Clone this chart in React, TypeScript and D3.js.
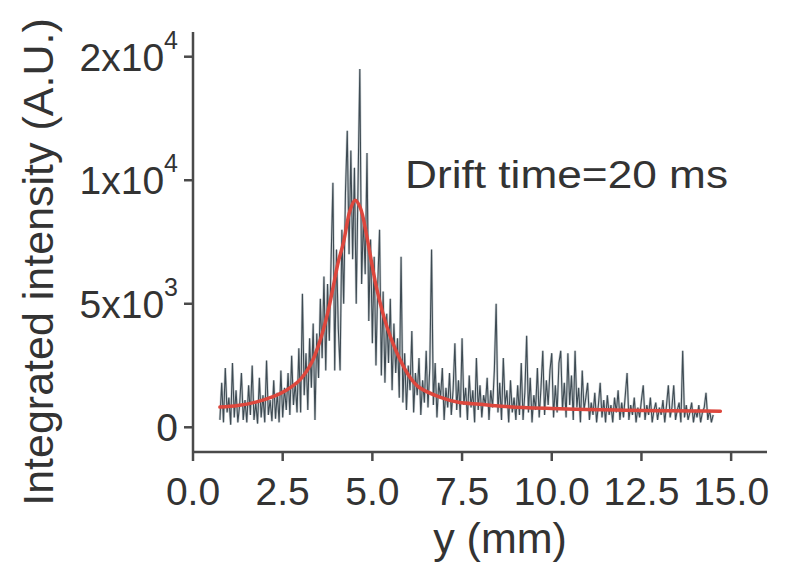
import React from "react";
import * as d3 from "d3";

// Integrated intensity profile along y, sampled every 0.05 mm from 0.75 mm
const Y_START_MM = 0.75;
const Y_STEP_MM = 0.05;
const intensity: number[] = [
  // 0.75 – 2.45 mm
  300, 1800, 200, 2400, 600, 1200, 100, 2600, 400, 1500, 200, 900, 2200, 300, 1100, 200, 1700, 500,
  2500, 300, 1000, 150, 2000, 400, 1300, 200, 2700, 500, 1100, 250, 1900, 350, 1400, 200, 2300,
  // 2.50 – 2.95
  400, 1600, 700, 2200, 500, 2900, 900, 1800, 600, 3200,
  // 3.00 – 3.45
  600, 5400, 1300, 3000, 700, 3600, 1600, 4200, 300, 3800,
  // 3.50 – 3.95
  2000, 5200, 2800, 6100, 2300, 5800, 3500, 6800, 9900, 2300,
  // 4.00 – 4.35
  7200, 4000, 2300, 8000, 5000, 9500, 12000, 7000,
  // 4.40 – 4.80
  11200, 6800, 10500, 5000, 9800, 14500, 5800, 8500, 6200,
  // 4.85 – 5.20
  11100, 4300, 7600, 3400, 6900, 2500, 5800, 8000,
  // 5.25 – 5.80
  2100, 5500, 1800, 4600, 2600, 5200, 1500, 4200, 2200, 3600, 1200, 6900,
  // 5.85 – 6.60
  1000, 3000, 700, 2500, 1500, 3900, 600, 2200, 1300, 2800, 500, 1900, 1000, 3100, 800, 2400,
  // 6.65 – 7.25
  7200, 900, 2600, 400, 1800, 1200, 2400, 300, 1600, 800, 2200, 500, 1500,
  // 7.30 – 8.25
  3400, 700, 1900, 400, 3600, 900, 1600, 300, 2100, 800, 1500, 200, 2800, 700, 1700, 400, 1300, 900,
  2000, 300,
  // 8.30 – 9.00
  1500, 800, 2300, 5000, 600, 1800, 300, 2800, 900, 1500, 200, 1900, 600, 1200, 300,
  // 9.05 – 10.25
  1700, 500, 2600, 300, 1400, 3700, 600, 2000, 200, 1300, 700, 2400, 400, 1600, 3100, 500, 1900, 900,
  2300, 3000, 400, 1700, 600, 2600, 3100,
  // 10.30 – 11.50
  700, 1800, 400, 3000, 900, 2100, 300, 3100, 800, 1600, 200, 2300, 700, 1200, 1800, 300, 1000, 500,
  1400, 200, 900, 1800, 400, 1100, 200,
  // 11.55 – 12.75
  1300, 500, 900, 200, 1200, 600, 1500, 300, 1000, 400, 1300, 2200, 300, 900, 500, 1200, 200, 800,
  400, 1100, 1700, 300, 900, 500, 1200,
  // 12.80 – 14.50
  200, 700, 1000, 300, 800, 500, 1100, 200, 900, 1700, 400, 800, 1700, 300, 700, 1000, 200, 3100,
  400, 900, 300, 600, 1000, 200, 700, 400, 900, 200, 600, 800, 1400, 300, 700, 200, 500,
];

// Peak fit curve
const fitY_mm: number[] = [
  0.75, 1.25, 1.75, 2.25, 2.6, 3.0, 3.3, 3.54, 3.75, 3.91, 4.05, 4.19, 4.38, 4.52, 4.66, 4.85,
  5.0, 5.13, 5.41, 5.78, 6.05, 6.3, 6.9, 7.4, 8.0, 8.6, 9.2, 10.0, 11.0, 12.0, 13.0, 14.0, 14.7,
];
const fitIntensity: number[] = [
  820, 880, 1020, 1250, 1500, 1950, 2600, 3500, 4600, 5700, 6700, 7450, 8790, 9190, 8900, 7690,
  6500, 5550, 4050, 2710, 2020, 1620, 1210, 1010, 930, 850, 800, 760, 720, 690, 670, 660, 650,
];

const xTicks: number[] = [0, 2.5, 5, 7.5, 10, 12.5, 15];
const yTicks: number[] = [0, 5000, 10000, 15000];
const yTickMantissa: string[] = ["0", "5x10", "1x10", "2x10"];
const yTickExponent: string[] = ["", "3", "4", "4"];

const WIDTH = 791;
const HEIGHT = 568;
const FONT = "'Liberation Sans', Arial, Helvetica, sans-serif";
const AXIS_COLOR = "#4a4a4a";
const TEXT_COLOR = "#333333";

export default function App() {
  const x = d3.scaleLinear().domain([0, 16]).range([193, 767]);
  const y = d3.scaleLinear().domain([-1000, 16000]).range([452, 32]);

  const rawPoints: [number, number][] = intensity.map((v, i) => [Y_START_MM + i * Y_STEP_MM, v]);
  const rawLine = d3
    .line<[number, number]>()
    .x((d) => x(d[0]))
    .y((d) => y(d[1]))(rawPoints);

  const fitPoints: [number, number][] = fitY_mm.map((v, i) => [v, fitIntensity[i]]);
  const fitLine = d3
    .line<[number, number]>()
    .curve(d3.curveCatmullRom.alpha(0.5))
    .x((d) => x(d[0]))
    .y((d) => y(d[1]))(fitPoints);

  const [x0, x1] = x.range();
  const [yb, yt] = y.range();
  const tickLen = 9;

  return (
    <svg
      width={WIDTH}
      height={HEIGHT}
      style={{ position: "absolute", left: 0, top: 0, background: "#ffffff" }}
      fontFamily={FONT}
    >
      {/* measured trace: soft halo under a darker core */}
      <path d={rawLine ?? ""} fill="none" stroke="#8a969e" strokeWidth={2.4} strokeOpacity={0.45} />
      <path d={rawLine ?? ""} fill="none" stroke="#2f3c45" strokeWidth={1.1} strokeOpacity={0.9} />
      {/* fit */}
      <path d={fitLine ?? ""} fill="none" stroke="#dd473d" strokeWidth={3.5} strokeLinecap="round" />

      {/* axes */}
      <line x1={x0} x2={x0} y1={yt} y2={yb} stroke={AXIS_COLOR} strokeWidth={2.5} />
      <line x1={x0} x2={x1} y1={yb} y2={yb} stroke={AXIS_COLOR} strokeWidth={2.5} />

      {xTicks.map((t) => (
        <g key={`xt${t}`} transform={`translate(${x(t)},${yb})`}>
          <line y1={0} y2={tickLen} stroke={AXIS_COLOR} strokeWidth={2.5} />
          <text y={53} textAnchor="middle" fontSize={39} fill={TEXT_COLOR}>
            {t.toFixed(1)}
          </text>
        </g>
      ))}

      {yTicks.map((t, i) => (
        <g key={`yt${t}`} transform={`translate(${x0},${y(t)})`}>
          <line x1={-tickLen} x2={0} stroke={AXIS_COLOR} strokeWidth={2.5} />
          <text x={-15} y={14} textAnchor="end" fontSize={39} fill={TEXT_COLOR}>
            {yTickMantissa[i]}
            {yTickExponent[i] && (
              <tspan fontSize={25} dy={-22}>
                {yTickExponent[i]}
              </tspan>
            )}
          </text>
        </g>
      ))}

      {/* axis titles */}
      <text
        transform={`translate(53,262) rotate(-90)`}
        textAnchor="middle"
        fontSize={43}
        fill={TEXT_COLOR}
      >
        Integrated intensity (A.U.)
      </text>
      <text x={500} y={553} textAnchor="middle" fontSize={43} fill={TEXT_COLOR}>
        y (mm)
      </text>

      {/* annotation */}
      <text x={405} y={188} fontSize={38} fill={TEXT_COLOR} textLength={323} lengthAdjust="spacingAndGlyphs">
        Drift time=20 ms
      </text>
    </svg>
  );
}
